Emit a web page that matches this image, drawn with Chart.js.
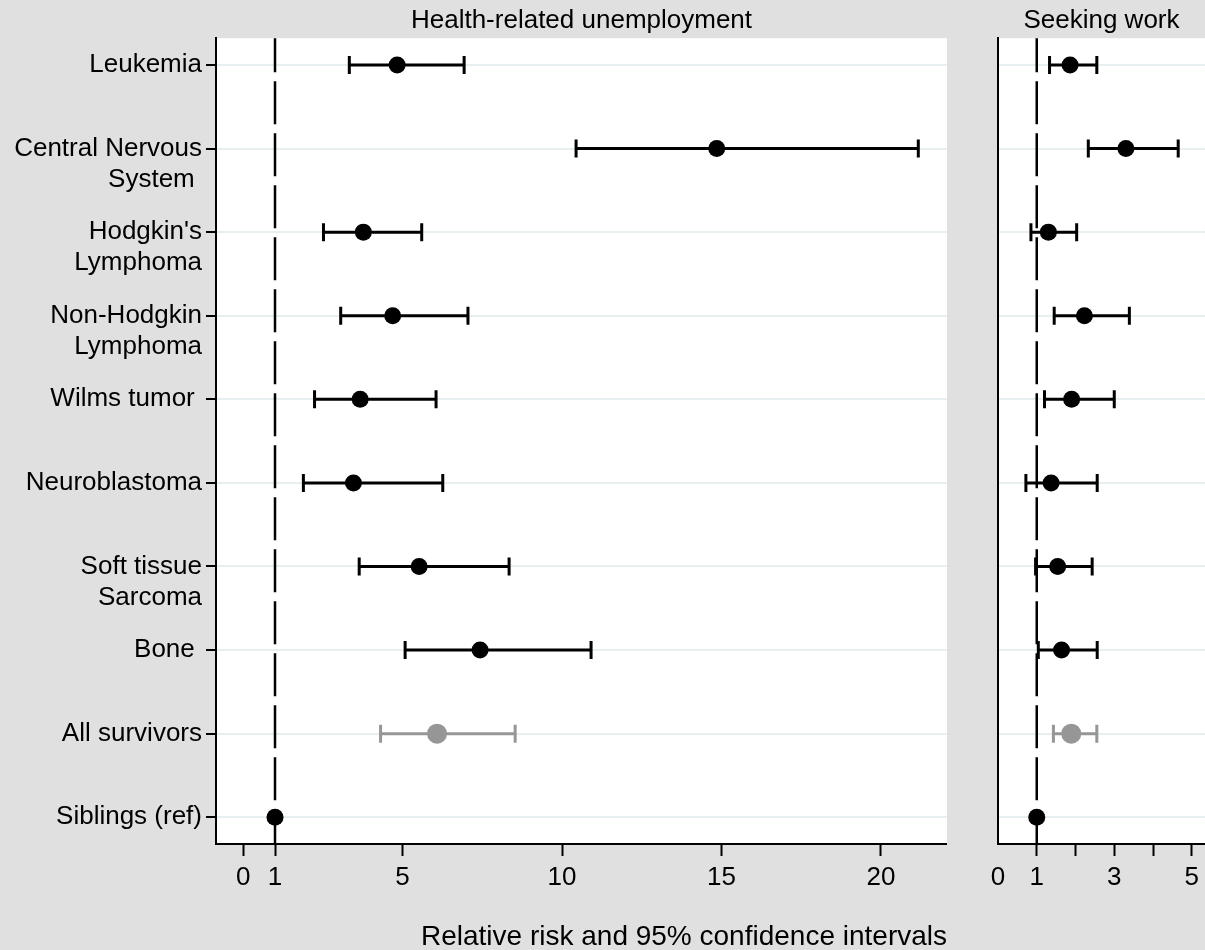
<!DOCTYPE html>
<html>
<head>
<meta charset="utf-8">
<script src="https://cdn.jsdelivr.net/npm/chart.js@4/dist/chart.umd.min.js"></script>
<style>
  html, body { margin: 0; padding: 0; background: #e0e0e0; overflow: hidden; }
  body { width: 1205px; height: 950px; position: relative; font-family: "Liberation Sans", Arial, sans-serif; }
  .panel { position: absolute; top: 0; height: 950px; }
  #leftBox { left: 0; width: 947px; }
  #rightBox { left: 960px; width: 245px; }
  #xTitle { position: absolute; left: 684px; top: 922px; transform: translateX(-50%);
            font-size: 28px; line-height: 28px; white-space: nowrap; color: #000; }
</style>
</head>
<body>
<div class="panel" id="leftBox"><canvas id="hruChart"></canvas></div>
<div class="panel" id="rightBox"><canvas id="seekChart"></canvas></div>
<div id="xTitle">Relative risk and 95% confidence intervals</div>
<script>
// Categories, top to bottom
const categories = [
    ['Leukemia'],
    ['', 'Central Nervous', 'System '],
    ['', "Hodgkin's", 'Lymphoma'],
    ['', 'Non-Hodgkin', 'Lymphoma'],
    ['Wilms tumor '],
    ['Neuroblastoma'],
    ['', 'Soft tissue', 'Sarcoma'],
    ['Bone '],
    ['All survivors'],
    ['Siblings (ref)']
];

// Health-related unemployment: relative risk and 95% CI
const hruEst = [4.83, 14.85, 3.77, 4.69, 3.67, 3.46, 5.52, 7.43, 6.08, 1];
const hruLo  = [3.33, 10.44, 2.52, 3.06, 2.24, 1.89, 3.64, 5.08, 4.31, 1];
const hruHi  = [6.93, 21.17, 5.60, 7.05, 6.05, 6.26, 8.34, 10.91, 8.53, 1];

// Seeking work: relative risk and 95% CI
const seekEst = [1.86, 3.30, 1.30, 2.23, 1.90, 1.37, 1.54, 1.64, 1.89, 1];
const seekLo  = [1.33, 2.33, 0.85, 1.45, 1.20, 0.72, 0.97, 1.04, 1.43, 1];
const seekHi  = [2.55, 4.65, 2.03, 3.39, 3.00, 2.56, 2.43, 2.56, 2.55, 1];

// x tick values and labels
const hruTicks = [0, 1, 5, 10, 15, 20];
const seekTicks = [0, 1, 2, 3, 4, 5];
const seekTickLabels = ['0', '1', '', '3', '', '5'];

const refValue = 1;
const highlightRow = 8; // "All survivors" drawn in grey

const FONT = "'Liberation Sans', Arial, sans-serif";
const GRID = '#e8eff0';
const GREY = '#969696';

function rowColor(i) {
    return i === highlightRow ? GREY : '#000000';
}

// white plot region, dashed reference line and CI bars
const forestPlugin = {
    id: 'forest',
    beforeDraw(chart) {
        const {ctx, chartArea: a} = chart;
        ctx.save();
        ctx.fillStyle = '#ffffff';
        ctx.fillRect(a.left, a.top, a.right - a.left, a.bottom - a.top);
        ctx.restore();
    },
    beforeDatasetsDraw(chart, args, opts) {
        const {ctx, chartArea: a, scales: {x, y}} = chart;
        ctx.save();
        // reference line
        const rx = x.getPixelForValue(refValue);
        ctx.strokeStyle = '#000';
        ctx.lineWidth = 2.5;
        ctx.setLineDash([43, 9]);
        ctx.lineDashOffset = 9;
        ctx.beginPath();
        ctx.moveTo(rx, a.top);
        ctx.lineTo(rx, a.bottom);
        ctx.stroke();
        ctx.setLineDash([]);
        // confidence intervals
        ctx.lineWidth = 3;
        opts.lo.forEach((lo, i) => {
            const hi = opts.hi[i];
            if (lo === hi) return;
            const py = y.getPixelForValue(i);
            const x0 = x.getPixelForValue(lo);
            const x1 = x.getPixelForValue(hi);
            ctx.strokeStyle = rowColor(i);
            ctx.beginPath();
            ctx.moveTo(x0, py);
            ctx.lineTo(x1, py);
            ctx.moveTo(x0, py - 9);
            ctx.lineTo(x0, py + 9);
            ctx.moveTo(x1, py - 9);
            ctx.lineTo(x1, py + 9);
            ctx.stroke();
        });
        ctx.restore();
    }
};

function makeChart(canvasId, cfg) {
    const ctx = document.getElementById(canvasId);
    return new Chart(ctx, {
        type: 'scatter',
        data: {
            datasets: [{
                data: cfg.est.map((v, i) => ({x: v, y: i})),
                pointRadius: cfg.est.map((v, i) => i === highlightRow ? 10 : 8.5),
                pointBackgroundColor: cfg.est.map((v, i) => rowColor(i)),
                pointBorderWidth: 0,
                pointHoverRadius: 10
            }]
        },
        plugins: [forestPlugin],
        options: {
            responsive: true,
            maintainAspectRatio: false,
            animation: false,
            layout: {padding: 0, autoPadding: false},
            plugins: {
                legend: {display: false},
                tooltip: {enabled: false},
                title: {
                    display: true,
                    text: cfg.title,
                    fullSize: false,
                    color: '#000',
                    font: {family: FONT, size: 26, weight: 'normal', lineHeight: 1.2},
                    padding: {top: 5, bottom: 2}
                },
                forest: {lo: cfg.lo, hi: cfg.hi}
            },
            scales: {
                x: {
                    type: 'linear',
                    min: cfg.xMin,
                    max: cfg.xMax,
                    afterBuildTicks: (scale) => {
                        scale.ticks = cfg.ticks.map(v => ({value: v}));
                    },
                    afterFit: (scale) => { scale.height = 106; },
                    ticks: {
                        autoSkip: false,
                        maxRotation: 0,
                        minRotation: 0,
                        padding: 6,
                        color: '#000',
                        font: {family: FONT, size: 26},
                        callback: cfg.tickLabel
                    },
                    grid: {
                        drawOnChartArea: false,
                        drawTicks: true,
                        tickLength: 12,
                        tickWidth: 2,
                        tickColor: cfg.tickColor
                    },
                    border: {color: '#000', width: 2}
                },
                y: {
                    type: 'linear',
                    reverse: true,
                    min: -0.32,
                    max: 9.32,
                    afterBuildTicks: (scale) => {
                        scale.ticks = categories.map((c, i) => ({value: i}));
                    },
                    afterFit: (scale) => { scale.width = cfg.yWidth; },
                    ticks: {
                        display: cfg.showLabels,
                        autoSkip: false,
                        padding: 4,
                        color: '#000',
                        font: {family: FONT, size: 26, lineHeight: 1.2},
                        callback: (value) => categories[value]
                    },
                    grid: {
                        color: GRID,
                        lineWidth: 2,
                        drawTicks: cfg.showLabels,
                        tickLength: 10,
                        tickWidth: 2,
                        tickColor: '#000'
                    },
                    border: {color: '#000', width: 2}
                }
            }
        }
    });
}

makeChart('hruChart', {
    title: 'Health-related unemployment',
    est: hruEst, lo: hruLo, hi: hruHi,
    xMin: -0.85, xMax: 22.07,
    ticks: hruTicks,
    tickLabel: (value) => String(value),
    tickColor: '#000',
    yWidth: 216,
    showLabels: true
});

makeChart('seekChart', {
    title: 'Seeking work',
    est: seekEst, lo: seekLo, hi: seekHi,
    xMin: 0, xMax: 5.34,
    ticks: seekTicks,
    tickLabel: (value, index) => seekTickLabels[index],
    tickColor: (ctx) => (ctx.tick && ctx.tick.value === 0) ? 'rgba(0,0,0,0)' : '#000',
    yWidth: 38,
    showLabels: false
});
</script>
</body>
</html>
